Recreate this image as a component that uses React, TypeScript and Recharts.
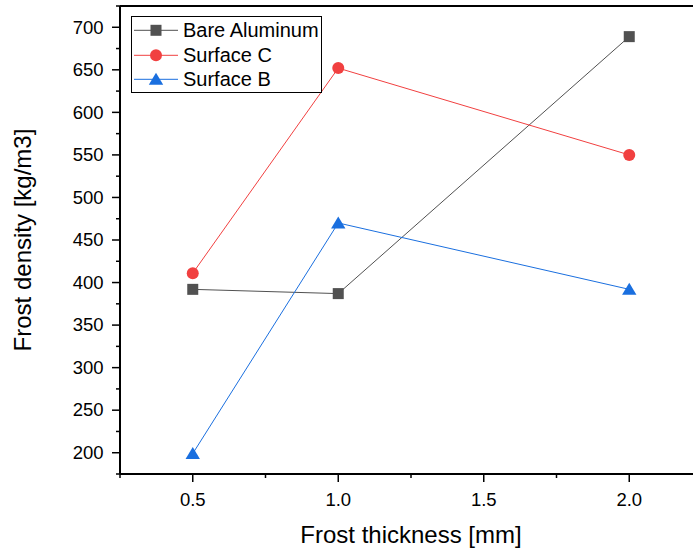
import { Legend, Line, LineChart, ReferenceLine, XAxis, YAxis } from "recharts"

// 서리 두께별 서리 밀도
const thickness = [0.5, 1.0, 2.0]
const bareAluminum = [392, 387, 689]
const surfaceC = [411, 652, 550]
const surfaceB = [199, 470, 392]

const xTicks = [0.25, 0.5, 0.75, 1.0, 1.25, 1.5, 1.75, 2.0, 2.25]
const yTicks = [175, 200, 225, 250, 275, 300, 325, 350, 375, 400, 425, 450, 475, 500, 525, 550, 575, 600, 625, 650, 675, 700, 725]

const FONT = "'Liberation Sans', Arial, sans-serif"
const CHART_W = 710
const CHART_H = 552
const AXIS_LEFT = 120 // y축 선 위치 (YAxis width)
const AXIS_BOTTOM = 474 // x축 선 위치 (CHART_H - XAxis height)

type Shape = "square" | "circle" | "triangle"

// 범례 순서 = 원본 순서 (Legend 기본 정렬은 이름순이라 직접 그림)
const SERIES: { key: string; name: string; color: string; shape: Shape }[] = [
  { key: "bare", name: "Bare Aluminum", color: "#515151", shape: "square" },
  { key: "c", name: "Surface C", color: "#F14040", shape: "circle" },
  { key: "b", name: "Surface B", color: "#1A6FDF", shape: "triangle" },
]

const data = thickness.map((x, i) => ({ x, bare: bareAluminum[i], c: surfaceC[i], b: surfaceB[i] }))

function Marker({ cx, cy, color, shape }: { cx: number; cy: number; color: string; shape: Shape }) {
  if (shape === "square") return <rect x={cx - 5.5} y={cy - 5.5} width={11} height={11} fill={color} />
  if (shape === "circle") return <circle cx={cx} cy={cy} r={6} fill={color} />
  return <polygon points={`${cx},${cy - 6.5} ${cx - 7.2},${cy + 5.5} ${cx + 7.2},${cy + 5.5}`} fill={color} />
}

function YTick(props: any) {
  const { y, payload } = props
  const major = payload.value % 50 === 0
  return (
    <g>
      <line x1={AXIS_LEFT - (major ? 8 : 4)} x2={AXIS_LEFT} y1={y} y2={y} stroke="#000" strokeWidth={1.5} />
      {major && (
        <text x={103.5} y={y + 6.3} textAnchor="end" fontSize={18.5} fontFamily={FONT} fill="#000">
          {payload.value}
        </text>
      )}
    </g>
  )
}

function XTick(props: any) {
  const { x, payload } = props
  const v = payload.value as number
  const major = Math.abs(v * 2 - Math.round(v * 2)) < 1e-6
  return (
    <g>
      <line x1={x} x2={x} y1={AXIS_BOTTOM} y2={AXIS_BOTTOM + (major ? 8 : 4)} stroke="#000" strokeWidth={1.5} />
      {major && (
        <text x={x} y={505.5} textAnchor="middle" fontSize={18.5} fontFamily={FONT} fill="#000">
          {v.toFixed(1)}
        </text>
      )}
    </g>
  )
}

function LegendBox() {
  return (
    <div
      style={{
        width: 191,
        height: 77,
        border: "1.3px solid #000",
        boxSizing: "border-box",
        background: "#fff",
        position: "relative",
        fontFamily: FONT,
        fontSize: 20,
        color: "#000",
      }}
    >
      {SERIES.map((s, i) => (
        <div
          key={s.key}
          style={{ position: "absolute", left: 0, top: 1 + i * 24.6, height: 24.6, display: "flex", alignItems: "center" }}
        >
          <svg width={48} height={24.6} style={{ display: "block" }}>
            <line x1={2} x2={46} y1={12.3} y2={12.3} stroke={s.color} strokeWidth={1} />
            <Marker cx={24} cy={12.3} color={s.color} shape={s.shape} />
          </svg>
          <span style={{ marginLeft: 3, lineHeight: 1, whiteSpace: "nowrap" }}>{s.name}</span>
        </div>
      ))}
    </div>
  )
}

export default function App() {
  return (
    <div style={{ position: "absolute", left: 0, top: 0, width: 693, height: 552, overflow: "hidden", background: "#fff" }}>
      <LineChart width={CHART_W} height={CHART_H} data={data} margin={{ top: 6, right: 8, bottom: 0, left: 0 }}>
        <XAxis
          dataKey="x"
          type="number"
          domain={[0.25, 2.25]}
          ticks={xTicks}
          interval={0}
          height={CHART_H - AXIS_BOTTOM}
          axisLine={{ stroke: "#000", strokeWidth: 2 }}
          tickLine={false}
          tick={<XTick />}
          label={() => (
            <text x={411} y={543} textAnchor="middle" fontSize={24} fontFamily={FONT} fill="#000">
              Frost thickness [mm]
            </text>
          )}
        />
        <YAxis
          type="number"
          domain={[175, 725]}
          ticks={yTicks}
          interval={0}
          width={AXIS_LEFT}
          axisLine={{ stroke: "#000", strokeWidth: 2 }}
          tickLine={false}
          tick={<YTick />}
          label={() => (
            <text x={31} y={240} transform="rotate(-90 31 240)" textAnchor="middle" fontSize={24} fontFamily={FONT} fill="#000">
              Frost density [kg/m3]
            </text>
          )}
        />
        {/* 위쪽 테두리 */}
        <ReferenceLine y={725} stroke="#000" strokeWidth={2} />
        {SERIES.map((s) => (
          <Line
            key={s.key}
            dataKey={s.key}
            name={s.name}
            stroke={s.color}
            strokeWidth={1}
            isAnimationActive={false}
            dot={(p: any) => <Marker key={`${s.key}-${p.index}`} cx={p.cx} cy={p.cy} color={s.color} shape={s.shape} />}
            activeDot={false}
          />
        ))}
        <Legend
          layout="vertical"
          align="center"
          verticalAlign="middle"
          wrapperStyle={{ left: 131, top: 16, width: 191, height: 77 }}
          content={() => <LegendBox />}
        />
      </LineChart>
    </div>
  )
}
